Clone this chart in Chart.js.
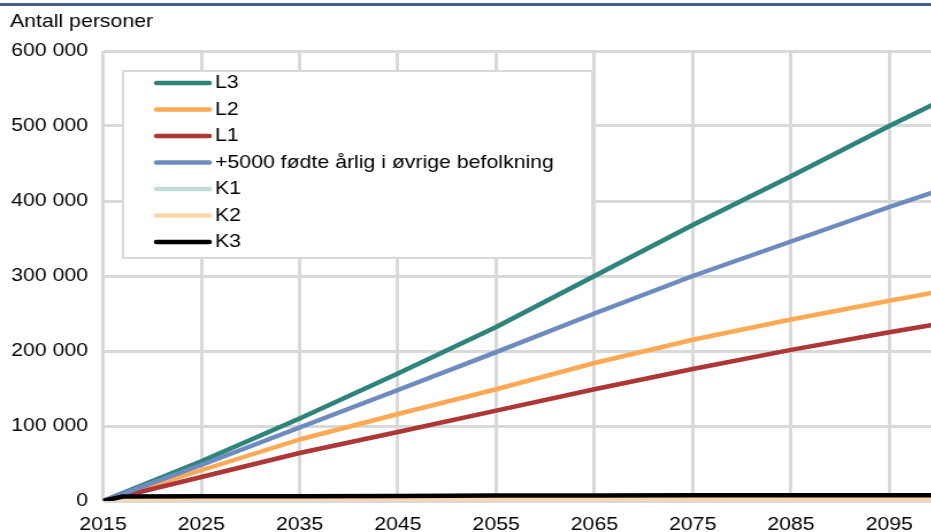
<!DOCTYPE html>
<html>
<head>
<meta charset="utf-8">
<script src="https://cdn.jsdelivr.net/npm/chart.js@4.4.1/dist/chart.umd.min.js"></script>
<style>
  html, body { margin: 0; padding: 0; background: #fff; overflow: hidden; }
  #wrap { position: absolute; left: 0; top: 0; transform: scaleX(1.15); transform-origin: 0 0; }
  #topline { position: absolute; left: 0; top: 3px; width: 931px; height: 3px; background: #44608f; }
</style>
</head>
<body>
<div id="wrap"><canvas id="chart" width="816" height="532"></canvas></div>
<div id="topline"></div>
<script>
// Data
const yAxisTitle = "Antall personer";
const years = [2015, 2025, 2035, 2045, 2055, 2065, 2075, 2085, 2095, 2100];
const kYears = [2015, 2017, 2025, 2035, 2045, 2055, 2065, 2075, 2085, 2095, 2100];
const xTicks = [2015, 2025, 2035, 2045, 2055, 2065, 2075, 2085, 2095];
const yTicks = [0, 100000, 200000, 300000, 400000, 500000, 600000];

const L3 = [0, 53000, 110000, 170000, 232000, 300000, 368000, 433000, 500000, 532000];
const L2 = [0, 41000, 82000, 116000, 149000, 184000, 215000, 242000, 267000, 279000];
const L1 = [0, 32000, 64000, 92000, 120500, 149000, 176000, 201500, 225000, 236000];
const plus5000 = [0, 48000, 98000, 148000, 198500, 250000, 300000, 346000, 392000, 414000];
const K1 = [0, 800, 900, 1000, 1000, 1100, 1100, 1100, 1200, 1200, 1200];
const K2 = [0, 1500, 1600, 1700, 1700, 1800, 1800, 1900, 1900, 1900, 1900];
const K3 = [0, 6000, 6300, 6500, 6700, 7300, 7500, 7600, 7700, 7700, 7700];

const series = [
  { label: "L3", xs: years, ys: L3, color: "#2e847a" },
  { label: "L2", xs: years, ys: L2, color: "#ffa955" },
  { label: "L1", xs: years, ys: L1, color: "#ad3636" },
  { label: "+5000 fødte årlig i øvrige befolkning", xs: years, ys: plus5000, color: "#6e8bbf" },
  { label: "K1", xs: kYears, ys: K1, color: "#bfdcd8" },
  { label: "K2", xs: kYears, ys: K2, color: "#ffd5aa" },
  { label: "K3", xs: kYears, ys: K3, color: "#000000" },
];

const FONT = '"Liberation Sans", Arial, sans-serif';
const gridColor = "#d9d9d9";

const datasets = series.map((s, i) => ({
  label: s.label,
  data: s.xs.map((x, j) => ({ x: x, y: s.ys[j] })),
  borderColor: s.color,
  backgroundColor: s.color,
  borderWidth: 4.5,
  pointRadius: 0,
  tension: 0,
  borderJoinStyle: "round",
  order: series.length - 1 - i, // later series on top, like the original
}));

// Legend box inside the plot area + axis title
const legendBox = {
  id: "legendBox",
  afterDatasetsDraw(chart) {
    const ctx = chart.ctx;
    ctx.save();
    ctx.fillStyle = "#fff";
    ctx.fillRect(107, 71, 408, 187);
    ctx.strokeStyle = gridColor;
    ctx.lineWidth = 2;
    ctx.strokeRect(107, 71, 408, 187);
    ctx.font = "18.5px " + FONT;
    ctx.textBaseline = "middle";
    ctx.textAlign = "left";
    chart.data.datasets.forEach((ds, i) => {
      const y = 83 + i * 26.5;
      ctx.strokeStyle = ds.borderColor;
      ctx.lineWidth = 4.5;
      ctx.lineCap = "round";
      ctx.beginPath();
      ctx.moveTo(136, y);
      ctx.lineTo(182, y);
      ctx.stroke();
      ctx.fillStyle = "#000";
      ctx.fillText(ds.label, 187, y);
    });
    ctx.restore();
  },
  afterDraw(chart) {
    const ctx = chart.ctx;
    ctx.save();
    ctx.font = "18.5px " + FONT;
    ctx.fillStyle = "#000";
    ctx.textBaseline = "middle";
    ctx.fillText(yAxisTitle, 8.7, 21.5);
    ctx.restore();
  },
};

const ctx = document.getElementById("chart").getContext("2d");
new Chart(ctx, {
  type: "line",
  data: { datasets: datasets },
  plugins: [legendBox],
  options: {
    responsive: false,
    animation: false,
    layout: { padding: { top: 51, left: 0, right: 0, bottom: 0 } },
    plugins: {
      legend: { display: false },
      tooltip: { enabled: false },
    },
    scales: {
      x: {
        type: "linear",
        min: 2015,
        max: 2100,
        afterBuildTicks: (scale) => {
          scale.ticks = xTicks.map((v) => ({ value: v }));
        },
        afterFit: (scale) => {
          scale.height = 31;
          scale.paddingLeft = 0;
          scale.paddingRight = 0;
        },
        grid: { color: gridColor, lineWidth: 3, drawTicks: false },
        border: { display: false },
        ticks: {
          padding: 13,
          color: "#000",
          font: { size: 18.5, family: FONT },
          maxRotation: 0,
          autoSkip: false,
          callback: (v) => String(v),
        },
      },
      y: {
        min: 0,
        max: 600000,
        afterBuildTicks: (scale) => {
          scale.ticks = yTicks.map((v) => ({ value: v }));
        },
        afterFit: (scale) => {
          scale.width = 89.6;
          scale.paddingTop = 0;
          scale.paddingBottom = 0;
        },
        grid: { color: gridColor, lineWidth: 3, drawTicks: false },
        border: { display: false },
        ticks: {
          padding: 13,
          color: "#000",
          font: { size: 18.5, family: FONT },
          callback: (v) => String(v).replace(/\B(?=(\d{3})+(?!\d))/g, " "),
        },
      },
    },
  },
});
</script>
</body>
</html>
